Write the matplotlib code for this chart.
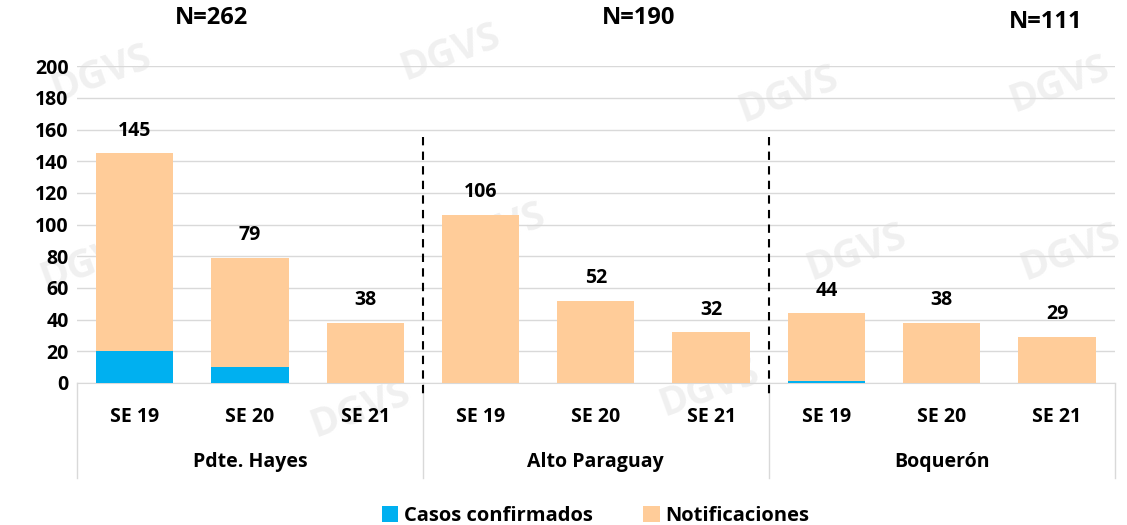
import matplotlib.pyplot as plt
import numpy as np

plt.rcParams['font.family'] = ['Open Sans', 'DejaVu Sans']
plt.rcParams['font.weight'] = 'bold'

weeks = ['SE 19', 'SE 20', 'SE 21'] * 3
groups = ['Pdte. Hayes', 'Alto Paraguay', 'Boquerón']
group_n = ['N=262', 'N=190', 'N=111']
confirmados = [20, 10, 0, 0, 0, 0, 1, 0, 0]
notificaciones = [125, 69, 38, 106, 52, 32, 43, 38, 29]
totales = [145, 79, 38, 106, 52, 32, 44, 38, 29]

blue = '#00B0F0'
orange = '#FFCC99'

fig = plt.figure(figsize=(11.27, 5.25), dpi=100)
ax = fig.add_axes([0.0683, 0.2705, 0.9207, 0.6035])
ax.set_zorder(1)
ax.patch.set_alpha(0)

# faint watermark behind the chart
for wx, wy in [(0.09, 0.86), (0.40, 0.90), (0.70, 0.82), (0.94, 0.84), (0.08, 0.50),
               (0.44, 0.56), (0.76, 0.52), (0.95, 0.52), (0.32, 0.22), (0.63, 0.26)]:
    fig.text(wx, wy, 'DGVS', fontsize=28, color='#F0F0F0', rotation=20, ha='center',
             va='center', fontweight='bold', zorder=0)

x = np.arange(len(weeks))
ax.bar(x, confirmados, width=0.67, color=blue, label='Casos confirmados', zorder=3)
ax.bar(x, notificaciones, width=0.67, bottom=confirmados, color=orange,
       label='Notificaciones', zorder=3)

for xi, t in zip(x, totales):
    ax.text(xi, t + 8, str(t), ha='center', va='bottom', fontsize=14, fontweight='bold')

ax.set_xlim(-0.5, len(weeks) - 0.5)
ax.set_ylim(0, 200)
ax.set_yticks(range(0, 201, 20))
ax.tick_params(axis='y', length=0, labelsize=14, pad=6)
ax.tick_params(axis='x', length=0, labelsize=14, pad=17)
ax.set_xticks(x)
ax.set_xticklabels(weeks, fontweight='bold')
for lbl in ax.get_yticklabels():
    lbl.set_fontweight('bold')
ax.grid(axis='y', color='#D9D9D9', linewidth=1, zorder=0)
for s in ['top', 'right', 'left']:
    ax.spines[s].set_visible(False)
ax.spines['bottom'].set_color('#D9D9D9')

# group labels and separators under the axis
for i, g in enumerate(groups):
    ax.text(3 * i + 1, -0.25, g, transform=ax.get_xaxis_transform(), ha='center',
            va='center', fontsize=14, fontweight='bold')
n_pos = [(0.67, 1.151), (4.37, 1.151), (7.9, 1.139)]
for (nx, ny), n in zip(n_pos, group_n):
    ax.text(nx, ny, n, transform=ax.get_xaxis_transform(), ha='center', va='center',
            fontsize=17, fontweight='bold')
for xs in [-0.5, 2.5, 5.5, 8.5]:
    ax.plot([xs, xs], [0, -0.3], transform=ax.get_xaxis_transform(), color='#D9D9D9',
            linewidth=1, clip_on=False)
for xs in [2.5, 5.5]:
    ax.plot([xs, xs], [155, -8], color='black', linestyle=(0, (4, 3)), linewidth=1.5,
            clip_on=False, zorder=4)

ax.legend(loc='center', bbox_to_anchor=(0.5, -0.42), ncol=2, frameon=False,
          handlelength=0.8, handleheight=0.8, columnspacing=2.5,
          handletextpad=0.3, prop={'weight': 'bold', 'size': 14.5})

fig.savefig('out.png', dpi=100)
